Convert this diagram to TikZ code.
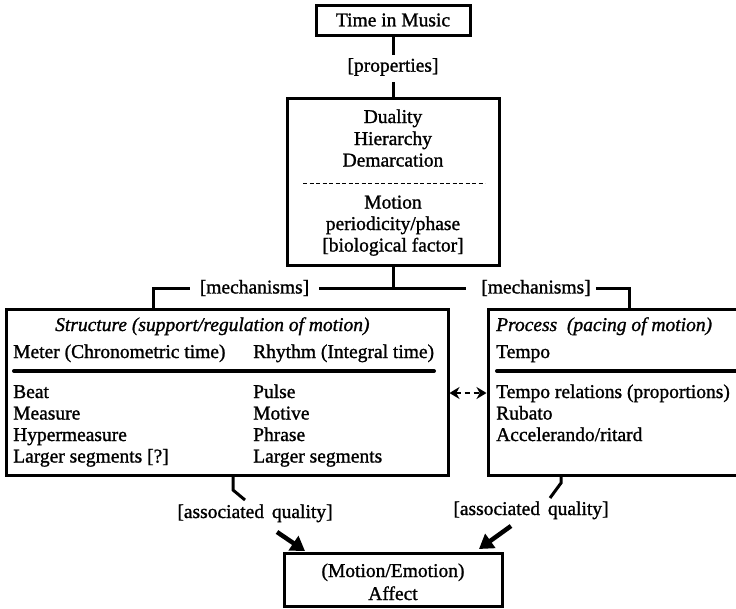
\documentclass[tikz,border=0pt]{standalone}
\usepackage{fontspec}
\setmainfont{Liberation Serif}[RawFeature={embolden=1.2}]
\usetikzlibrary{arrows.meta}
\begin{document}
\begin{tikzpicture}[x=1pt,y=-1pt,
  every node/.style={font=\fontsize{19.5}{21.5}\selectfont, inner sep=0pt},
  ital/.style={font=\fontsize{19.5}{21.5}\selectfont\itshape},
  box/.style={draw, line width=3pt, inner sep=0pt},
  conn/.style={line width=3pt},
  rulebar/.style={line width=4pt, line cap=round},
  bigarrow/.style={line width=4.5pt, -{Triangle[length=14pt,width=17pt]}},
  dasharrow/.style={line width=2.5pt, dash pattern=on 5pt off 4pt,
    {Stealth[length=10pt,width=12pt]}-{Stealth[length=10pt,width=12pt]}}]
\useasboundingbox[fill=white] (0,0) rectangle (736,608);

% top box
\node[box, minimum width=154pt, minimum height=30pt] (tim) at (393,20) {Time in Music};
\node (props) at (393,67) {[properties]};

% main box
\node[box, minimum width=212pt, minimum height=167pt] (main) at (393,181.5) {};
\node[anchor=base] (d1) at (393,123) {Duality};
\node[anchor=base] (d2) at (393,145) {Hierarchy};
\node[anchor=base] (d3) at (393,166.5) {Demarcation};
\node[anchor=base] (d4) at (393,208.5) {Motion};
\node[anchor=base] (d5) at (393,230) {periodicity/phase};
\node[anchor=base] (d6) at (393,251.5) {[biological factor]};
\draw[line width=1pt, dash pattern=on 4pt off 2.5pt] (303,183) -- (485,183);

\draw[conn, shorten >=12pt] (tim.south) -- (props.center);
\draw[conn, shorten <=15pt] (props.center) -- (main.north);

% mechanisms
\node[inner xsep=10pt] (mechL) at (254.5,288) {[mechanisms]};
\node[inner xsep=5pt] (mechR) at (536,288) {[mechanisms]};
\coordinate (jn) at (393,288);
\coordinate (m2) at (466,288);
\coordinate (lj) at (153,288);
\coordinate (rj) at (629,288);

% lower boxes
\node[box, minimum width=442pt, minimum height=166pt] (lbox) at (227,392) {};
\node[box, minimum width=282pt, minimum height=166pt] (rbox) at (629,392) {};

\draw[conn] (main.south) -- (jn);
\draw[conn] (mechL.east) -- (m2);
\draw[conn] (mechL.west) -- (lj) -- (lj |- lbox.north);
\draw[conn] (mechR.east) -- (rj) -- (rj |- rbox.north);

% left box content
\node[ital, anchor=base west] (st) at (55,331) {Structure (support/regulation of motion)};
\node[anchor=base west] (me) at (13,358) {Meter (Chronometric time)};
\node[anchor=base west] (rh) at (253,358) {Rhythm (Integral time)};
\draw[rulebar] (14,371) -- (434,371);
\node[anchor=base west] (l1) at (13,398) {Beat};
\node[anchor=base west] (l2) at (13,419.5) {Measure};
\node[anchor=base west] (l3) at (13,441) {Hypermeasure};
\node[anchor=base west] (l4) at (13,462.5) {Larger segments [?]};
\node[anchor=base west] (r1) at (253,398) {Pulse};
\node[anchor=base west] (r2) at (253,419.5) {Motive};
\node[anchor=base west] (r3) at (253,441) {Phrase};
\node[anchor=base west] (r4) at (253,462.5) {Larger segments};

% right box content
\node[ital, anchor=base west] (pr) at (496,331) {Process\ \ (pacing of motion)};
\node[anchor=base west] (te) at (496,358) {Tempo};
\draw[rulebar] (497,371) -- (745,371);
\node[anchor=base west] (p1) at (496,398) {Tempo relations (proportions)};
\node[anchor=base west] (p2) at (496,419.5) {Rubato};
\node[anchor=base west] (p3) at (496,441) {Accelerando/ritard};

% dashed double arrow
\coordinate (dy) at (0,393);
\draw[dasharrow] (lbox.east |- dy) -- (rbox.west |- dy);

% bottom connectors
\coordinate (lb0) at (233,475);
\coordinate (rb0) at (561,475);
\draw[conn] (lb0) -- ++(0,15) -- ++(12,10);
\draw[conn] (rb0) -- ++(0,8) -- ++(-11,15);
\node[anchor=base] (aqL) at (255,518) {[associated\hspace{3pt} quality]};
\node[anchor=base] (aqR) at (531,515) {[associated\hspace{3pt} quality]};

% affect box
\node[box, minimum width=218pt, minimum height=53pt] (aff) at (393,579.5) {};
\node[anchor=base] (a1) at (393,577) {(Motion/Emotion)};
\node[anchor=base] (a2) at (393,600) {Affect};

\coordinate (s1) at (277,532);
\coordinate (t1) at (305,551);
\coordinate (s2) at (511,526);
\coordinate (t2) at (479,549);
\draw[bigarrow] (s1) -- (t1);
\draw[bigarrow] (s2) -- (t2);
\end{tikzpicture}
\end{document}
